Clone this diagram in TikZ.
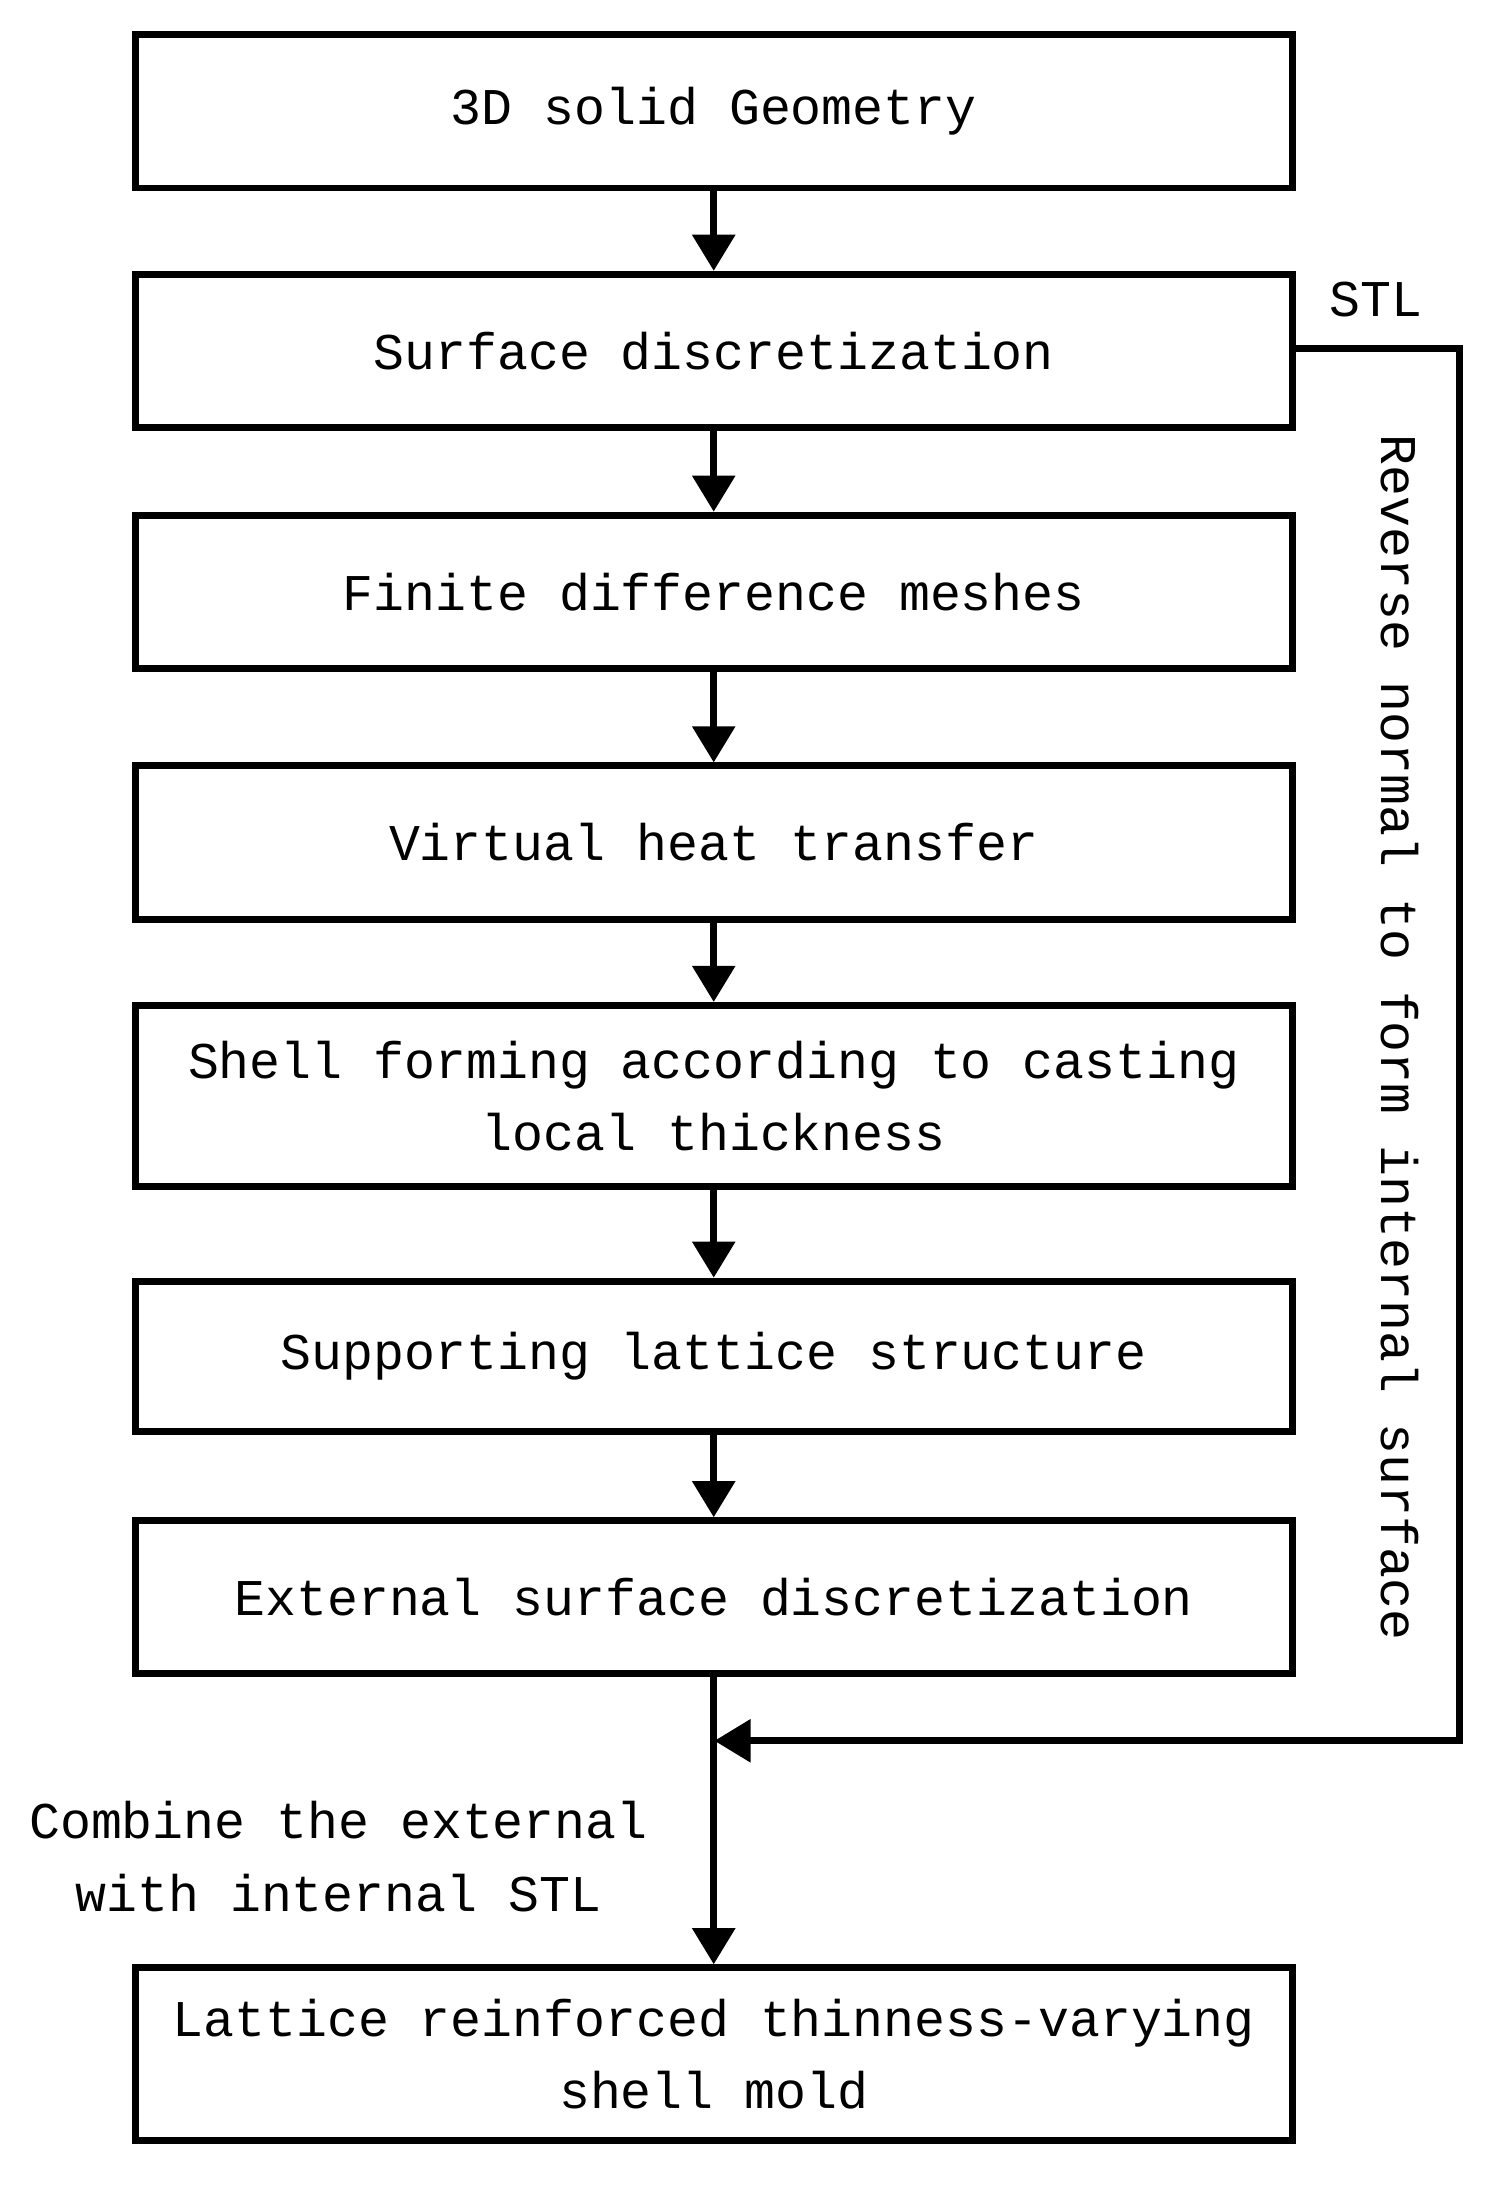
\documentclass[tikz,border=0pt]{standalone}
\usepackage{fontspec}
\setmainfont{Liberation Mono}
\usetikzlibrary{arrows.meta}
\begin{document}
\begin{tikzpicture}[x=1pt,y=-1pt,
 box/.style={draw,line width=5pt,minimum width=831pt,align=center,font=\fontsize{37}{52}\selectfont,inner sep=0pt},
 arr/.style={line width=5pt,-{Triangle[length=26pt,width=30pt]}},
 lbl/.style={font=\fontsize{37}{52}\selectfont,align=center}]
\useasboundingbox (0,0) rectangle (1080,1574);
\node[box,minimum height=110pt] (b1) at (512.5,80) {3D solid Geometry};
\node[box,minimum height=110pt] (b2) at (512.5,252) {Surface discretization};
\node[box,minimum height=110pt] (b3) at (512.5,425) {Finite difference meshes};
\node[box,minimum height=110pt] (b4) at (512.5,605) {Virtual heat transfer};
\node[box,minimum height=130pt] (b5) at (512.5,787) {Shell forming according to casting\\local thickness};
\node[box,minimum height=108pt] (b6) at (512.5,974) {Supporting lattice structure};
\node[box,minimum height=110pt] (b7) at (512.5,1147) {External surface discretization};
\node[box,minimum height=124pt] (b8) at (512.5,1475) {Lattice reinforced thinness-varying\\shell mold};
\draw[arr] (b1) -- (b2);
\draw[arr] (b2) -- (b3);
\draw[arr] (b3) -- (b4);
\draw[arr] (b4) -- (b5);
\draw[arr] (b5) -- (b6);
\draw[arr] (b6) -- (b7);
\draw[arr] (b7) -- (b8);
\coordinate (j) at (513,1250);
\draw[arr] (b2.east |- 0,250) -- (1048,250) -- (1048,1250) -- (j);
\node[lbl] (stl) at (988,215) {STL};
\node[lbl,rotate=-90] (rev) at (1005,745) {Reverse normal to form internal surface};
\node[lbl] (comb) at (243,1333) {Combine the external\\with internal STL};
\end{tikzpicture}
\end{document}
